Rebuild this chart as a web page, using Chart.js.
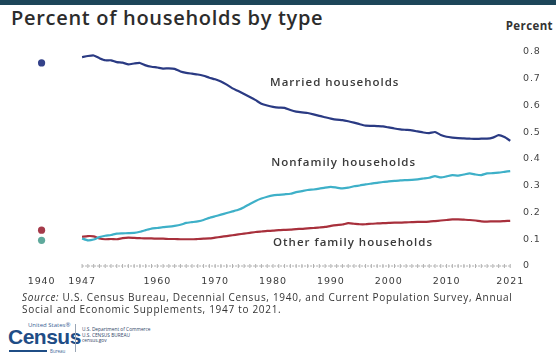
<!DOCTYPE html>
<html>
<head>
<meta charset="utf-8">
<script src="https://cdn.jsdelivr.net/npm/chart.js@4.4.1/dist/chart.umd.min.js"></script>
<style>
  html, body { margin: 0; padding: 0; background: #fff; }
  body { width: 556px; height: 364px; position: relative; overflow: hidden; font-family: "Open Sans", sans-serif; color: #333; }
  .topbar { position: absolute; left: 0; top: 0; width: 556px; height: 5px; background: #1d4659; }
  .title { position: absolute; left: 11px; top: 4px; font-size: 20px; font-weight: 600; color: #2c2c2c; white-space: nowrap; letter-spacing: 0.7px; }
  .unit { position: absolute; right: 3px; top: 18px; font-size: 11.5px; font-weight: 700; color: #333; letter-spacing: 0.4px; }
  #wrap { position: absolute; left: 0; top: 0; width: 556px; height: 300px; }
  .source { position: absolute; left: 22px; top: 291px; font-size: 10px; line-height: 12px; color: #333; letter-spacing: 0.7px; white-space: nowrap; }
  .logo { position: absolute; left: 8px; top: 321px; width: 200px; height: 36px; }
  .logo .us { position: absolute; left: 20px; top: 0; font-size: 6px; color: #3a5f95; }
  .logo .census { position: absolute; left: 0; top: 4px; font-family: "Liberation Sans", Arial, sans-serif; font-size: 21px; font-weight: 700; color: #1f4d86; letter-spacing: -0.5px; }
  .logo .bar { position: absolute; left: 1px; top: 29px; width: 38px; height: 2px; background: #1f4d86; }
  .logo .bureau { position: absolute; left: 42px; top: 27px; font-size: 4.5px; color: #3a5f95; }
  .logo .sep { position: absolute; left: 67px; top: 3px; width: 1px; height: 28px; background: #9aa6b5; }
  .logo .dept { position: absolute; left: 74px; top: 6px; font-size: 4.8px; line-height: 5.5px; color: #2f4467; white-space: nowrap; }
</style>
</head>
<body>
<div class="topbar"></div>
<div class="title">Percent of households by type</div>
<div class="unit">Percent</div>
<div id="wrap"><canvas id="chart"></canvas></div>
<div class="source"><i>Source:</i> U.S. Census Bureau, Decennial Census, 1940, and Current Population Survey, Annual<br>Social and Economic Supplements, 1947 to 2021.</div>
<div class="logo">
  <div class="us">United States®</div>
  <div class="census">Census</div>
  <div class="bar"></div>
  <div class="bureau">Bureau</div>
  <div class="sep"></div>
  <div class="dept">U.S. Department of Commerce<br>U.S. CENSUS BUREAU<br>census.gov</div>
</div>
<script>
// annual CPS series, 1947-2021
const years = Array.from({ length: 75 }, (_, i) => 1947 + i);

const married = [
  0.781, 0.785, 0.787, 0.777, 0.769, 0.769, 0.762, 0.760, 0.754, 0.757,
  0.759, 0.750, 0.745, 0.742, 0.738, 0.739, 0.737, 0.727, 0.722, 0.719,
  0.716, 0.711, 0.704, 0.698, 0.690, 0.678, 0.664, 0.654, 0.643, 0.632,
  0.620, 0.607, 0.600, 0.595, 0.592, 0.591, 0.583, 0.577, 0.574, 0.572,
  0.567, 0.561, 0.556, 0.551, 0.547, 0.545, 0.541, 0.536, 0.530, 0.525,
  0.524, 0.523, 0.522, 0.518, 0.514, 0.511, 0.509, 0.507, 0.503, 0.499,
  0.497, 0.501, 0.490, 0.483, 0.480, 0.478, 0.477, 0.476, 0.475, 0.476,
  0.476, 0.480, 0.489, 0.482, 0.468
];

const nonfamily = [
  0.103, 0.096, 0.099, 0.108, 0.113, 0.116, 0.121, 0.122, 0.123, 0.124,
  0.128, 0.134, 0.140, 0.142, 0.145, 0.147, 0.150, 0.154, 0.161, 0.164,
  0.167, 0.172, 0.180, 0.186, 0.192, 0.198, 0.204, 0.210, 0.220, 0.232,
  0.243, 0.252, 0.259, 0.264, 0.266, 0.268, 0.270, 0.276, 0.280, 0.284,
  0.286, 0.289, 0.293, 0.296, 0.293, 0.290, 0.293, 0.298, 0.301, 0.305,
  0.308, 0.311, 0.314, 0.316, 0.318, 0.320, 0.321, 0.322, 0.324, 0.327,
  0.330, 0.336, 0.331, 0.335, 0.340, 0.338, 0.342, 0.346, 0.342, 0.340,
  0.346, 0.347, 0.349, 0.352, 0.355
];

const otherFamily = [
  0.109, 0.112, 0.111, 0.103, 0.100, 0.101, 0.100, 0.104, 0.106, 0.105,
  0.104, 0.103, 0.103, 0.102, 0.102, 0.101, 0.101, 0.100, 0.100, 0.100,
  0.101, 0.102, 0.103, 0.106, 0.109, 0.112, 0.115, 0.118, 0.121, 0.124,
  0.127, 0.129, 0.131, 0.132, 0.134, 0.135, 0.136, 0.138, 0.139, 0.141,
  0.142, 0.144, 0.146, 0.150, 0.153, 0.155, 0.160, 0.158, 0.156, 0.156,
  0.158, 0.159, 0.160, 0.161, 0.162, 0.162, 0.163, 0.164, 0.165, 0.165,
  0.166, 0.168, 0.170, 0.172, 0.174, 0.174, 0.173, 0.172, 0.170, 0.167,
  0.166, 0.167, 0.167, 0.168, 0.169
];

// decennial census 1940: married, nonfamily, other family
const censusYear = 1940;
const census1940 = [0.759, 0.096, 0.134];

const xTickYears = [1940, 1947, 1960, 1970, 1980, 1990, 2000, 2010, 2021];
const yTicks = [0, 0.1, 0.2, 0.3, 0.4, 0.5, 0.6, 0.7, 0.8];

const seriesNames = ['Married households', 'Nonfamily households', 'Other family households'];
// where each series name sits, in data units
const labelAnchors = [
  { x: 1979.5, y: 0.684 },
  { x: 1979.7, y: 0.385 },
  { x: 1980.0, y: 0.086 }
];

const COLORS = {
  married: '#2a3a83',
  nonfamily: '#3eb0c8',
  other: '#a8303c',
  dotMarried: '#34428a',
  dotNonfamily: '#5fa99c',
  dotOther: '#a53a4a',
  axis: '#b0b0b0',
  text: '#3a3a3a'
};

const toPoints = vals => years.map((yr, i) => ({ x: yr, y: vals[i] }));

function lineSet(label, vals, color) {
  return {
    label,
    data: toPoints(vals),
    borderColor: color,
    borderWidth: 2.2,
    pointRadius: 0,
    tension: 0.15,
    fill: false
  };
}

function dotSet(value, color) {
  return {
    data: [{ x: censusYear, y: value }],
    showLine: false,
    pointRadius: 3.6,
    pointBackgroundColor: color,
    pointBorderColor: color,
    pointBorderWidth: 0
  };
}

// wider tracking for the axis labels
const tracking = {
  id: 'tracking',
  beforeDraw(chart) { chart.ctx.letterSpacing = '0.9px'; }
};

const seriesLabels = {
  id: 'seriesLabels',
  afterDatasetsDraw(chart) {
    const { ctx, scales: { x, y } } = chart;
    ctx.save();
    ctx.font = '600 11.5px "Open Sans", sans-serif';
    ctx.letterSpacing = '1px';
    ctx.fillStyle = COLORS.text;
    ctx.textAlign = 'left';
    ctx.textBaseline = 'middle';
    seriesNames.forEach((name, i) => {
      ctx.fillText(name, x.getPixelForValue(labelAnchors[i].x), y.getPixelForValue(labelAnchors[i].y));
    });
    ctx.restore();
  }
};

new Chart(document.getElementById('chart'), {
  type: 'line',
  data: {
    datasets: [
      // zero baseline with a tick for every survey year
      {
        data: years.map(yr => ({ x: yr, y: 0 })),
        clip: false,
        borderColor: COLORS.axis,
        borderWidth: 1,
        borderDash: [2, 1],
        pointStyle: 'line',
        rotation: 90,
        pointRadius: 2,
        pointBorderColor: COLORS.axis,
        pointBorderWidth: 1
      },
      lineSet(seriesNames[1], nonfamily, COLORS.nonfamily),
      lineSet(seriesNames[2], otherFamily, COLORS.other),
      lineSet(seriesNames[0], married, COLORS.married),
      dotSet(census1940[0], COLORS.dotMarried),
      dotSet(census1940[1], COLORS.dotNonfamily),
      dotSet(census1940[2], COLORS.dotOther)
    ]
  },
  options: {
    responsive: true,
    maintainAspectRatio: false,
    animation: false,
    devicePixelRatio: 1,
    layout: { padding: { left: 30, right: 0, top: 52, bottom: 0 } },
    plugins: { legend: { display: false }, tooltip: { enabled: false } },
    scales: {
      x: {
        type: 'linear',
        min: 1938,
        max: 2022,
        grid: { display: false, drawTicks: false },
        border: { display: false },
        afterBuildTicks: s => { s.ticks = xTickYears.map(v => ({ value: v })); },
        afterFit: s => { s.height = 34; },
        ticks: {
          autoSkip: false,
          maxRotation: 0,
          padding: 10,
          color: COLORS.text,
          font: { family: '"DejaVu Sans", sans-serif', size: 9.5 },
          callback: v => String(v)
        }
      },
      y: {
        position: 'right',
        min: 0,
        max: 0.8,
        grid: { display: false, drawTicks: false },
        border: { display: false },
        afterBuildTicks: s => { s.ticks = yTicks.map(v => ({ value: v })); },
        afterFit: s => { s.width = 40; },
        ticks: {
          padding: 7,
          color: '#444',
          font: { family: '"DejaVu Sans", sans-serif', size: 9.5 },
          callback: v => (v === 0 ? '0' : v.toFixed(1))
        }
      }
    }
  },
  plugins: [tracking, seriesLabels]
});
</script>
</body>
</html>
